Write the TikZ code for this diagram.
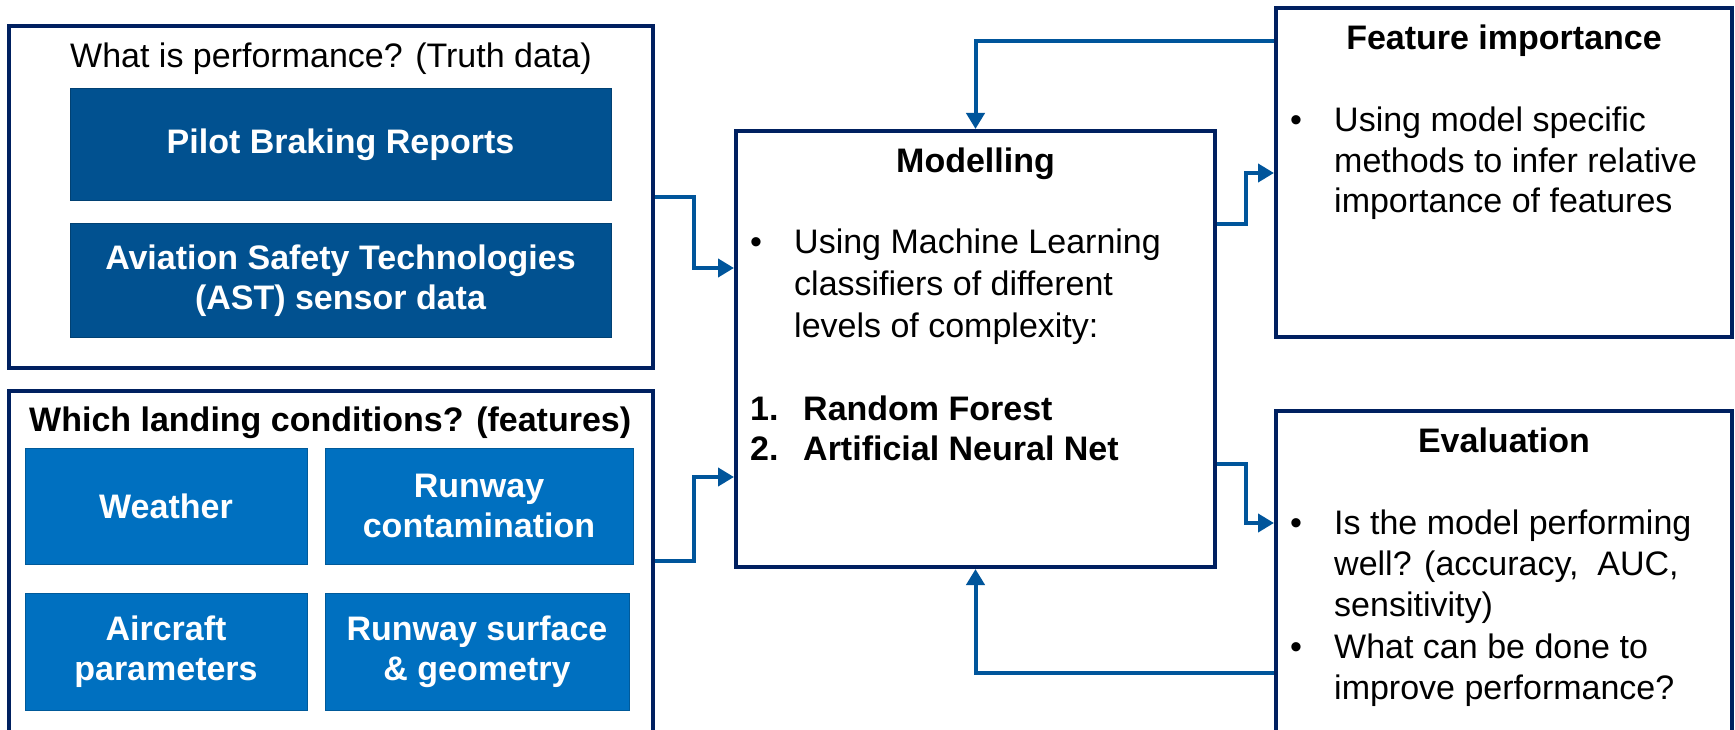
\documentclass[tikz,border=0pt]{standalone}
\usepackage{fontspec}
\setmainfont{Liberation Sans}
\usetikzlibrary{arrows.meta}
\definecolor{navy}{RGB}{0,32,96}
\definecolor{conncol}{RGB}{0,85,155}
\definecolor{darkbox}{RGB}{1,81,144}
\definecolor{lightbox}{RGB}{0,112,192}
\newcommand\dgfont{\fontsize{34}{40}\selectfont}
\begin{document}
\begin{tikzpicture}[x=1pt,y=-1pt,
  frame/.style={draw=navy, line width=4pt, fill=white, inner sep=0pt},
  darkfill/.style={fill=darkbox, draw=darkbox!80!black, line width=1pt, text=white,
    font=\dgfont\bfseries, align=center, inner sep=0pt},
  lightfill/.style={fill=lightbox, draw=lightbox!80!black, line width=1pt, text=white,
    font=\dgfont\bfseries, align=center, inner sep=0pt},
  txt/.style={anchor=base west, inner sep=0pt, font=\dgfont},
  btxt/.style={anchor=base west, inner sep=0pt, font=\dgfont\bfseries},
  ctitle/.style={anchor=base, inner sep=0pt, font=\dgfont\bfseries},
  conn/.style={draw=conncol, line width=4pt, line join=miter,
    -{Triangle[length=16pt,width=18pt]}}]
\useasboundingbox[fill=white] (0,0) rectangle (1735,730);

% left boxes
\node[frame, minimum width=644pt, minimum height=342pt] (perf) at (331,197) {};
\node[frame, minimum width=644pt, minimum height=343pt] (feat) at (331,562) {};
\node[txt] (perftitle) at (70,68) {What is performance? (Truth data)};
\node[btxt] (feattitle) at (29,431) {Which landing conditions? (features)};
\node[darkfill, minimum width=541pt, minimum height=112pt] (pilot) at (340.5,145) {Pilot Braking Reports};
\node[darkfill, minimum width=541pt, minimum height=113pt] (ast) at (340.5,280.5) {Aviation Safety Technologies\\(AST) sensor data};
\node[lightfill, minimum width=282pt, minimum height=116pt] (weather) at (166,506) {Weather};
\node[lightfill, minimum width=308pt, minimum height=116pt] (contam) at (479,506) {Runway\\contamination};
\node[lightfill, minimum width=282pt, minimum height=117pt] (aircraft) at (166,651.5) {Aircraft\\parameters};
\node[lightfill, minimum width=304pt, minimum height=117pt] (surface) at (477,651.5) {Runway surface\\\& geometry};

% modelling
\node[frame, minimum width=479pt, minimum height=436pt] (model) at (975.5,349) {};
\node[ctitle] (modtitle) at (975.5,173) {Modelling};
\node[txt] (mb1) at (750,254) {•};
\node[txt] (ml1) at (794,254) {Using Machine Learning};
\node[txt] (ml2) at (794,295.5) {classifiers of different};
\node[txt] (ml3) at (794,337) {levels of complexity:};
\node[btxt] (mn1) at (750,420) {1.};
\node[btxt] (mr1) at (803,420) {Random Forest};
\node[btxt] (mn2) at (750,460) {2.};
\node[btxt] (mr2) at (803,460) {Artificial Neural Net};

% feature importance
\node[frame, minimum width=456pt, minimum height=329pt] (fi) at (1504,172.5) {};
\node[ctitle] (fititle) at (1504,50) {Feature importance};
\node[txt] (fb1) at (1290,132) {•};
\node[txt] (fl1) at (1334,132) {Using model specific};
\node[txt] (fl2) at (1334,173) {methods to infer relative};
\node[txt] (fl3) at (1334,213) {importance of features};

% evaluation
\node[frame, minimum width=456pt, minimum height=323pt] (eval) at (1504,572) {};
\node[ctitle] (evtitle) at (1504,452) {Evaluation};
\node[txt] (eb1) at (1290,534) {•};
\node[txt] (el1) at (1334,534) {Is the model performing};
\node[txt] (el2) at (1334,575) {well? (accuracy,\ \ AUC,};
\node[txt] (el3) at (1334,616) {sensitivity)};
\node[txt] (eb2) at (1290,658) {•};
\node[txt] (el4) at (1334,658) {What can be done to};
\node[txt] (el5) at (1334,699) {improve performance?};

% connectors
\draw[conn] (perf.east) -- (694,197) -- (694,268) -- (model.west |- 0,268);
\draw[conn] (feat.east |- 0,561) -- (694,561) -- (694,477) -- (model.west |- 0,477);
\draw[conn] (fi.west |- 0,41) -| (model.north);
\draw[conn] (model.east |- 0,224) -- (1246,224) -- (1246,173) -- (fi.west |- 0,173);
\draw[conn] (model.east |- 0,464) -- (1246,464) -- (1246,523) -- (eval.west |- 0,523);
\draw[conn] (eval.west |- 0,673) -| (model.south);
\end{tikzpicture}
\end{document}
